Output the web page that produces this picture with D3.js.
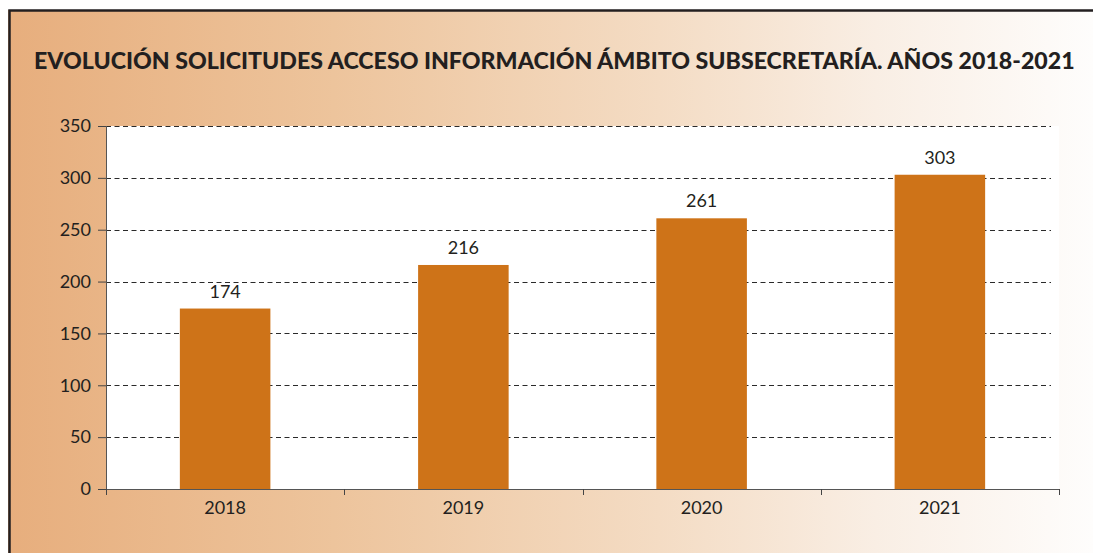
<!DOCTYPE html>
<html>
<head>
<meta charset="utf-8">
<script src="https://cdn.jsdelivr.net/npm/d3@7"></script>
<style>
    body { margin: 0; background: #fff; }
    svg { display: block; font-family: Lato, "Open Sans", sans-serif; }
</style>
</head>
<body>
<div id="wrapper"></div>
<script>
const title = "EVOLUCIÓN SOLICITUDES ACCESO INFORMACIÓN ÁMBITO SUBSECRETARÍA. AÑOS 2018-2021"
const years = ["2018", "2019", "2020", "2021"]
const requests = [174, 216, 261, 303]
const yTicks = [0, 50, 100, 150, 200, 250, 300, 350]

function drawBars() {

    const dimensions = {
        width: 1093,
        height: 553,
        margin: {
            top: 126,
            right: 34,
            bottom: 64,
            left: 106,
        },
    }
    dimensions.boundedWidth = dimensions.width
        - dimensions.margin.left
        - dimensions.margin.right
    dimensions.boundedHeight = dimensions.height
        - dimensions.margin.top
        - dimensions.margin.bottom

    const wrapper = d3.select("#wrapper")
        .append("svg")
        .attr("width", dimensions.width)
        .attr("height", dimensions.height)

    // background panel with the warm gradient
    const grad = wrapper.append("defs")
        .append("linearGradient")
        .attr("id", "bg")
        .attr("x1", "0%").attr("x2", "100%")
        .attr("y1", "0%").attr("y2", "0%")
    grad.selectAll("stop")
        .data([
            ["0%", "#e7ae7d"],
            ["30%", "#edc49c"],
            ["60%", "#f4dcc4"],
            ["80%", "#f9eee4"],
            ["100%", "#fefdfc"],
        ])
        .join("stop")
        .attr("offset", d => d[0])
        .attr("stop-color", d => d[1])

    wrapper.append("rect")
        .attr("x", 8)
        .attr("y", 10)
        .attr("width", dimensions.width - 8)
        .attr("height", dimensions.height - 10)
        .attr("fill", "url(#bg)")

    wrapper.append("path")
        .attr("d", `M9.5,${dimensions.height} V10.5 H${dimensions.width}`)
        .attr("fill", "none")
        .attr("stroke", "#231f20")
        .attr("stroke-width", 2.5)

    const titleText = wrapper.append("text")
        .attr("x", 34)
        .attr("y", 69)
        .attr("font-weight", 900)
        .attr("font-size", 17)
        .attr("fill", "#231f20")
        .text(title)
    const tw = titleText.node().getComputedTextLength()
    titleText.attr("font-size", 17 * 1041 / tw)

    const bounds = wrapper.append("g")
        .attr("transform", `translate(${dimensions.margin.left}, ${dimensions.margin.top})`)

    const xScale = d3.scaleBand()
        .domain(years)
        .range([0, dimensions.boundedWidth])
        .paddingInner(0.62)
        .paddingOuter(0.31)
    const bandScale = d3.scaleBand()
        .domain(years)
        .range([0, dimensions.boundedWidth])

    const yScale = d3.scaleLinear()
        .domain([0, 350])
        .range([dimensions.boundedHeight, 0])

    bounds.append("rect")
        .attr("width", dimensions.boundedWidth)
        .attr("height", dimensions.boundedHeight)
        .attr("fill", "#fff")

    // dashed grid
    bounds.append("g")
        .selectAll("line")
        .data(yTicks.filter(d => d > 0))
        .join("line")
        .attr("x1", 0)
        .attr("x2", dimensions.boundedWidth - 8)
        .attr("y1", d => Math.round(yScale(d)) + 0.5)
        .attr("y2", d => Math.round(yScale(d)) + 0.5)
        .attr("stroke", "#2a2a2a")
        .attr("stroke-dasharray", "5,3.5")

    bounds.selectAll(".bar")
        .data(requests)
        .join("rect")
        .attr("class", "bar")
        .attr("x", (d, i) => xScale(years[i]))
        .attr("width", xScale.bandwidth())
        .attr("y", d => yScale(d))
        .attr("height", d => dimensions.boundedHeight - yScale(d))
        .attr("fill", "#ce7318")

    bounds.selectAll(".value")
        .data(requests)
        .join("text")
        .attr("class", "value")
        .attr("x", (d, i) => xScale(years[i]) + xScale.bandwidth() / 2)
        .attr("y", d => yScale(d) - 11)
        .attr("text-anchor", "middle")
        .attr("font-size", 18)
        .attr("fill", "#231f20")
        .text(d => d)

    const yAxis = d3.axisLeft(yScale)
        .tickValues(yTicks)
        .tickSize(8)
        .tickPadding(7)
    const yAxisG = bounds.append("g").call(yAxis)
    yAxisG.select(".domain")
        .attr("d", `M0.5,0V${dimensions.boundedHeight}`)
        .attr("stroke", "#555")
    yAxisG.selectAll(".tick line").attr("stroke", "#444")
    yAxisG.selectAll("text")
        .attr("font-size", 18)
        .attr("font-family", "Lato, sans-serif")
        .attr("fill", "#231f20")

    // x axis: ticks on band boundaries, labels at band centres
    const xAxisG = bounds.append("g")
        .attr("transform", `translate(0, ${dimensions.boundedHeight})`)
    xAxisG.append("line")
        .attr("x1", 0)
        .attr("x2", dimensions.boundedWidth)
        .attr("y1", 0.5)
        .attr("y2", 0.5)
        .attr("stroke", "#555")
    xAxisG.selectAll(".xtick")
        .data(years.map(y => bandScale(y)).concat([dimensions.boundedWidth]))
        .join("line")
        .attr("class", "xtick")
        .attr("x1", d => Math.round(d) + 0.5)
        .attr("x2", d => Math.round(d) + 0.5)
        .attr("y1", 0)
        .attr("y2", 6)
        .attr("stroke", "#444")
    xAxisG.selectAll(".xlabel")
        .data(years)
        .join("text")
        .attr("class", "xlabel")
        .attr("x", d => bandScale(d) + bandScale.bandwidth() / 2)
        .attr("y", 25)
        .attr("text-anchor", "middle")
        .attr("font-size", 18)
        .attr("fill", "#231f20")
        .text(d => d)
}

drawBars()
</script>
</body>
</html>
